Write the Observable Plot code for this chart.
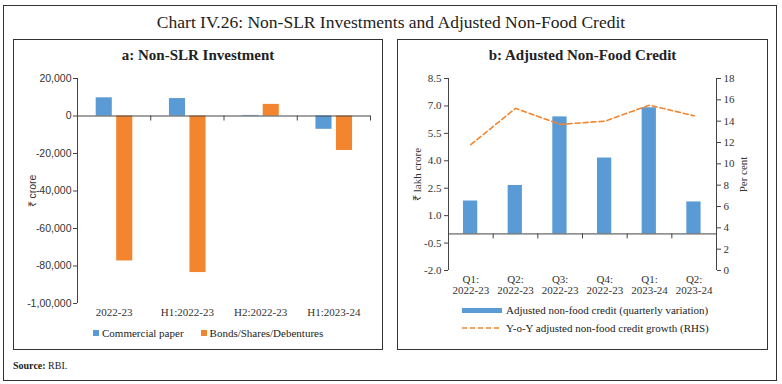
<!DOCTYPE html>
<html><head><meta charset="utf-8">
<script src="https://cdn.jsdelivr.net/npm/d3@7"></script>
<script src="https://cdn.jsdelivr.net/npm/@observablehq/plot@0.6"></script>
<style>
body{margin:0;background:#fff;}
#root{position:relative;width:782px;height:384px;overflow:hidden;font-family:"Liberation Serif",serif;color:#222;}
.box{position:absolute;border:1.5px solid #333;box-sizing:border-box;}
.abs{position:absolute;white-space:nowrap;}
.title{left:0;width:782px;top:10px;text-align:center;font-size:17.5px;line-height:24px;color:#222;}
.ptitle{font-weight:bold;font-size:15px;line-height:18px;text-align:center;color:#222;}
.leg{font-size:11px;line-height:14px;color:#222;display:flex;align-items:center;}
.sq{display:inline-block;width:6px;height:6px;margin-right:3px;}
svg{overflow:visible;}
</style>
</head><body>
<div id="root">
  <div class="box" style="left:3px;top:5px;width:774px;height:376px;"></div>
  <div class="abs title">Chart IV.26: Non-SLR Investments and Adjusted Non-Food Credit</div>
  <div class="box" style="left:13px;top:39px;width:370px;height:311px;"></div>
  <div class="box" style="left:397px;top:39px;width:371px;height:311px;"></div>
  <div class="abs ptitle" style="left:13px;width:370px;top:46px;">a: Non-SLR Investment</div>
  <div class="abs ptitle" style="left:397px;width:371px;top:46px;">b: Adjusted Non-Food Credit</div>
  <div id="chartA" class="abs" style="left:13px;top:60px;"></div>
  <div id="chartB" class="abs" style="left:397px;top:60px;"></div>
  <div class="abs leg" style="left:93px;top:326px;"><span class="sq" style="background:#5B9BD5"></span>Commercial paper<span class="sq" style="background:#F4852F;margin-left:17px"></span>Bonds/Shares/Debentures</div>
  <div class="abs leg" style="left:462px;top:303px;"><span style="display:inline-block;width:40px;height:5px;background:#5B9BD5;margin-right:4px"></span>Adjusted non-food credit (quarterly variation)</div>
  <div class="abs leg" style="left:462px;top:321px;"><svg width="40" height="4" style="margin-right:4px"><line x1="0" x2="40" y1="2" y2="2" stroke="#F4852F" stroke-width="1.5" stroke-dasharray="5,3"/></svg>Y-o-Y adjusted non-food credit growth (RHS)</div>
  <div class="abs" style="left:13px;top:359px;font-size:10px;line-height:13px;"><b>Source:</b> RBI.</div>
</div>
<script>
// Panel a data
const periodsA = ["2022-23", "H1:2022-23", "H2:2022-23", "H1:2023-24"];
const commercialPaper = [9700, 9300, 300, -7100];
const bondsShares = [-77300, -83500, 6200, -18400];
const ticksA = [20000, 0, -20000, -40000, -60000, -80000, -100000];
const tickLabelsA = ["20,000", "0", "-20,000", "-40,000", "-60,000", "-80,000", "-1,00,000"];

// Panel b data
const quarters = ["Q1:\n2022-23", "Q2:\n2022-23", "Q3:\n2022-23", "Q4:\n2022-23", "Q1:\n2023-24", "Q2:\n2023-24"];
const nonFoodCredit = [1.8, 2.65, 6.4, 4.15, 6.9, 1.75];
const creditGrowth = [11.8, 15.2, 13.7, 14.0, 15.5, 14.5];
const ticksLeftB = [-2, -0.5, 1, 2.5, 4, 5.5, 7, 8.5];
const ticksRightB = [0, 2, 4, 6, 8, 10, 12, 14, 16, 18];

const BLUE = "#5B9BD5", ORANGE = "#F4852F", AXIS = "#444";

// ---------- Panel a ----------
const dataA = periodsA.flatMap((p, i) => [
  {i, s: "cp", v: commercialPaper[i]},
  {i, s: "bonds", v: bondsShares[i]}
]);
const barW = 0.22;
const offA = {cp: 0.365, bonds: 0.645};
const chartA = Plot.plot({
  width: 370, height: 273,
  marginLeft: 64, marginRight: 13, marginTop: 18, marginBottom: 30,
  x: {domain: [0, 4], axis: null},
  y: {domain: [-100000, 20000], axis: null},
  style: {fontFamily: "Liberation Serif", fontSize: "11px", color: "#333", background: "transparent"},
  marks: [
    Plot.rect(dataA, {x1: d => d.i + offA[d.s] - barW / 2, x2: d => d.i + offA[d.s] + barW / 2, y1: 0, y2: "v",
      fill: d => d.s === "cp" ? BLUE : ORANGE}),
    Plot.ruleY([0], {stroke: AXIS}),
    Plot.ruleX([1, 2, 3, 4], {y1: 0, y2: 0, insetBottom: -5, stroke: AXIS}),
    Plot.ruleX([0], {stroke: AXIS}),
    Plot.axisY({ticks: ticksA, tickFormat: d => tickLabelsA[ticksA.indexOf(d)], tickSize: 4, tickPadding: 2,
      stroke: AXIS, fontFamily: "Liberation Sans", fontSize: 10.5,
      label: "₹ crore", labelAnchor: "center", labelArrow: "none", labelOffset: 49}),
    Plot.axisX({ticks: [0.5, 1.5, 2.5, 3.5], tickFormat: d => periodsA[Math.floor(d)], tickSize: 0, tickPadding: 5, fontSize: 11})
  ]
});
document.getElementById("chartA").append(chartA);

// ---------- Panel b ----------
const toLeft = v => -2 + v * 10.5 / 18;
const chartB = Plot.plot({
  width: 371, height: 246,
  marginLeft: 51, marginRight: 52, marginTop: 18, marginBottom: 36,
  x: {domain: [0, 6], axis: null},
  y: {domain: [-2, 8.5], axis: null},
  style: {fontFamily: "Liberation Serif", fontSize: "11px", color: "#333", background: "transparent"},
  marks: [
    Plot.rect(nonFoodCredit, {x1: (d, i) => i + 0.335, x2: (d, i) => i + 0.655, y1: 0, y2: d => d, fill: BLUE}),
    Plot.ruleY([0], {stroke: AXIS}),
    Plot.ruleX([1, 2, 3, 4, 5], {y1: 0, y2: 0, insetBottom: -5, stroke: AXIS}),
    Plot.line(creditGrowth, {x: (d, i) => i + 0.5, y: d => toLeft(d), stroke: ORANGE, strokeWidth: 1.6, strokeDasharray: "5,3"}),
    Plot.ruleX([0, 6], {stroke: AXIS}),
    Plot.axisY({anchor: "left", ticks: ticksLeftB, tickFormat: d => d.toFixed(1), tickSize: 4, tickPadding: 3,
      stroke: AXIS, fontSize: 11, label: "₹ lakh crore", labelAnchor: "center", labelArrow: "none", labelOffset: 35}),
    Plot.axisY({anchor: "right", ticks: ticksRightB.map(toLeft), tickFormat: d => String(Math.round((d + 2) * 18 / 10.5)),
      tickSize: 4, tickPadding: 3, stroke: AXIS, fontSize: 11, label: "Per cent", labelAnchor: "center", labelArrow: "none", labelOffset: 30}),
    Plot.axisX({ticks: [0.5, 1.5, 2.5, 3.5, 4.5, 5.5], tickFormat: d => quarters[Math.floor(d)], tickSize: 0, tickPadding: 4,
      fontSize: 11, lineHeight: 1.05})
  ]
});
document.getElementById("chartB").append(chartB);
</script>
</body></html>
